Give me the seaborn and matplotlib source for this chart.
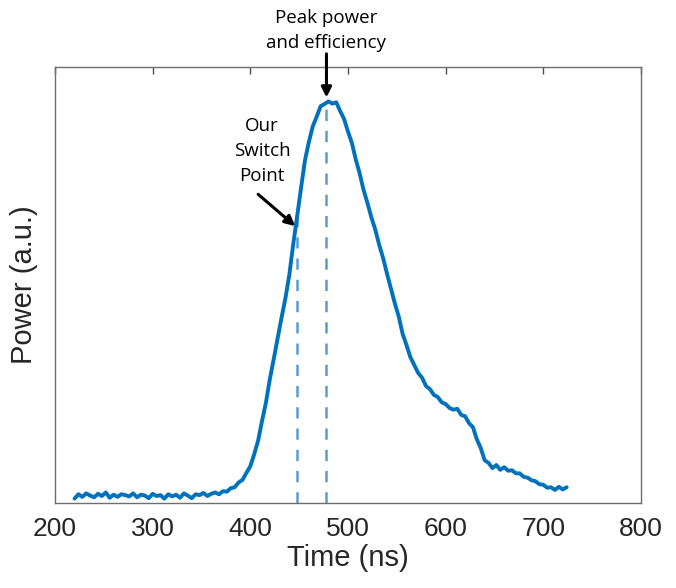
import numpy as np
import pandas as pd
import seaborn as sns
import matplotlib.pyplot as plt

# values (time in ns, power in arbitrary units)
time_ns = [220, 224, 228, 232, 236, 240, 244, 248, 252, 256, 260, 264, 268, 272, 276,
           280, 284, 288, 292, 296, 300, 304, 308, 312, 316, 320, 324, 328, 332, 336,
           340, 344, 348, 352, 356, 360, 364, 368, 372, 376, 380, 384, 388, 392, 396,
           400, 404, 408, 412, 416, 420, 424, 428, 432, 436, 440, 444, 448, 452, 456,
           460, 464, 468, 472, 476, 480, 484, 488, 492, 496, 500, 504, 508, 512, 516,
           520, 524, 528, 532, 536, 540, 544, 548, 552, 556, 560, 564, 568, 572, 576,
           580, 584, 588, 592, 596, 600, 604, 608, 612, 616, 620, 624, 628, 632, 636,
           640, 644, 648, 652, 656, 660, 664, 668, 672, 676, 680, 684, 688, 692, 696,
           700, 704, 708, 712, 716, 720, 724]
power = [0.010, 0.020, 0.014, 0.022, 0.017, 0.013, 0.021, 0.016, 0.024, 0.012, 0.019, 0.014,
         0.020, 0.018, 0.015, 0.022, 0.013, 0.019, 0.017, 0.011, 0.021, 0.016, 0.018, 0.010,
         0.020, 0.015, 0.019, 0.012, 0.022, 0.017, 0.011, 0.020, 0.018, 0.023, 0.016, 0.021,
         0.024, 0.020, 0.027, 0.026, 0.034, 0.036, 0.047, 0.053, 0.069, 0.084, 0.112, 0.143,
         0.188, 0.230, 0.284, 0.330, 0.378, 0.425, 0.470, 0.524, 0.594, 0.658, 0.723, 0.786,
         0.828, 0.864, 0.886, 0.910, 0.915, 0.921, 0.916, 0.919, 0.899, 0.881, 0.852, 0.826,
         0.788, 0.756, 0.718, 0.688, 0.655, 0.627, 0.592, 0.562, 0.526, 0.492, 0.458, 0.428,
         0.388, 0.362, 0.334, 0.316, 0.298, 0.287, 0.268, 0.261, 0.248, 0.243, 0.231, 0.227,
         0.218, 0.214, 0.216, 0.202, 0.199, 0.183, 0.174, 0.146, 0.126, 0.098, 0.092, 0.080,
         0.087, 0.076, 0.082, 0.074, 0.075, 0.068, 0.068, 0.060, 0.058, 0.052, 0.050, 0.043,
         0.042, 0.035, 0.036, 0.030, 0.037, 0.031, 0.036]

switch_t = 448
peak_t = 478

x_ticks = [200, 300, 400, 500, 600, 700, 800]

sns.set_style("white")
plt.rcParams['font.family'] = ['Liberation Sans', 'DejaVu Sans']

df = pd.DataFrame({"Time (ns)": time_ns, "Power (a.u.)": power})

fig = plt.figure(figsize=(6.76, 5.88), dpi=100)
ax = fig.add_axes([0.0814, 0.1446, 0.8666, 0.7415])

sns.lineplot(data=df, x="Time (ns)", y="Power (a.u.)", ax=ax, color="#0072BD",
             linewidth=2.8, zorder=3)

# dashed markers from the axis up to the trace
for t in (switch_t, peak_t):
    top = np.interp(t, time_ns, power)
    ax.vlines(t, 0, top, colors="#5B9BD5", linestyles=(0, (4.5, 4)), linewidth=1.8, zorder=2)

ax.set_xlim(200, 800)
ax.set_ylim(0, 1)
ax.set_xticks(x_ticks)
ax.set_yticks([])
ax.tick_params(axis='x', direction='in', length=5, width=1, color="#4d4d4d",
               top=True, labelsize=19, labelcolor="#262626", pad=10)
for s in ax.spines.values():
    s.set_color("#6e6e6e")
    s.set_linewidth(1)

ax.set_xlabel("Time (ns)", fontsize=21, color="#262626", labelpad=2)
ax.set_ylabel("Power (a.u.)", fontsize=21, color="#262626", labelpad=12)

note_font = dict(family=['Open Sans', 'DejaVu Sans'], fontsize=13.5, color="black",
                 ha='center', va='center', linespacing=1.5)

ax.text(peak_t, 1.083, "Peak power\nand efficiency", **note_font)
ax.annotate("", xy=(peak_t, 0.93), xytext=(peak_t, 1.03), annotation_clip=False,
            arrowprops=dict(arrowstyle='-|>,head_length=0.6,head_width=0.3', color='black',
                            lw=2.2, shrinkA=0, shrinkB=0))

ax.text(412, 0.807, "Our\nSwitch\nPoint", **note_font)
ax.annotate("", xy=(446, 0.635), xytext=(408, 0.708),
            arrowprops=dict(arrowstyle='-|>,head_length=0.6,head_width=0.3', color='black',
                            lw=2.2, shrinkA=0, shrinkB=0))

fig.savefig("out.png", dpi=100)
